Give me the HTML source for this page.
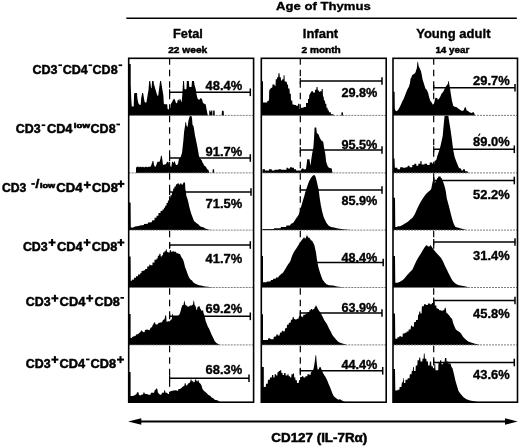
<!DOCTYPE html>
<html><head><meta charset="utf-8"><style>
html,body{margin:0;padding:0;background:#fff;}
svg{display:block;}
text{font-family:"Liberation Sans", sans-serif;font-weight:bold;fill:#000;stroke:#000;stroke-width:0.35px;}
svg{will-change:transform;}
</style></head><body>
<svg width="520" height="446" viewBox="0 0 520 446">
<text x="276" y="10.4" font-size="11.6" textLength="94.8" lengthAdjust="spacingAndGlyphs">Age of Thymus</text>
<line x1="126.3" y1="18.3" x2="516.8" y2="18.3" stroke="#000" stroke-width="1.5"/>
<text x="173" y="37.7" font-size="12.7" textLength="29.8" lengthAdjust="spacingAndGlyphs">Fetal</text>
<text x="168.2" y="52.5" font-size="9.9" textLength="39" lengthAdjust="spacingAndGlyphs" style="stroke-width:0.5px">22 week</text>
<text x="302.8" y="37.8" font-size="12.7" textLength="35.4" lengthAdjust="spacingAndGlyphs">Infant</text>
<text x="301.5" y="52.5" font-size="9.9" textLength="39.3" lengthAdjust="spacingAndGlyphs" style="stroke-width:0.5px">2 month</text>
<text x="416.2" y="37.7" font-size="12.7" textLength="74.3" lengthAdjust="spacingAndGlyphs">Young adult</text>
<text x="435.4" y="52.6" font-size="9.9" textLength="33.8" lengthAdjust="spacingAndGlyphs" style="stroke-width:0.5px">14 year</text>
<path d="M128.70,115.40 L128.70,64.00 L130.70,64.00 L130.70,84.00 L131.30,100.00 L131.80,106.60 L133.70,106.60 L134.10,94.00 L134.60,92.90 L137.00,92.90 L137.40,98.60 L138.30,103.00 L139.30,104.70 L140.70,104.70 L141.20,98.00 L142.20,92.90 L143.10,92.90 L144.50,101.40 L145.20,102.40 L146.40,102.40 L147.80,93.90 L148.50,90.00 L149.20,81.10 L150.20,81.10 L151.10,88.20 L151.60,88.00 L152.10,81.10 L153.50,81.10 L153.90,84.00 L156.80,93.90 L157.50,95.80 L158.20,95.80 L159.20,88.00 L160.10,81.10 L161.00,81.10 L162.00,87.30 L163.40,95.80 L163.80,103.30 L164.30,104.20 L167.20,104.20 L167.60,109.00 L169.50,109.50 L170.30,108.00 L170.80,104.00 L171.80,102.40 L173.00,100.00 L174.10,98.60 L175.00,100.00 L176.00,103.00 L177.00,103.30 L177.80,100.00 L178.40,99.50 L179.20,101.00 L179.80,98.60 L180.50,99.50 L181.60,102.40 L182.30,95.00 L183.10,81.10 L184.00,81.10 L184.50,89.20 L186.40,89.20 L186.90,81.10 L188.80,81.10 L189.30,87.00 L191.50,87.00 L192.00,81.10 L194.00,81.10 L194.50,85.00 L195.80,89.20 L196.50,94.00 L197.20,97.60 L198.20,99.50 L199.80,99.50 L200.60,98.00 L201.50,98.60 L202.30,100.00 L203.00,103.30 L203.80,103.30 L204.80,104.20 L205.70,104.20 L206.50,109.00 L207.60,114.60 L208.00,115.40 L209.20,115.40 L209.30,110.50 L210.40,110.50 L210.60,112.00 L211.00,112.00 L211.20,110.50 L212.30,110.50 L212.50,115.40 L213.00,115.40 L213.20,110.50 L214.60,110.50 L214.80,115.40 L221.60,115.40 L222.00,110.80 L223.60,110.80 L224.00,115.40 L224.00,115.40 Z" fill="#000"/>
<path d="M136.00,172.90 L136.00,172.90 L136.00,167.50 L137.00,167.00 L137.50,166.50 L138.50,166.80 L139.00,167.50 L140.00,166.50 L141.00,167.00 L142.00,167.20 L143.00,166.50 L144.00,167.50 L145.00,167.00 L146.00,166.50 L147.00,167.20 L148.00,167.00 L149.00,166.50 L150.00,167.00 L151.00,166.00 L152.00,163.00 L152.60,161.10 L153.40,161.10 L154.00,165.00 L155.00,167.00 L156.00,166.00 L157.00,163.00 L157.60,161.80 L159.60,161.80 L160.40,159.00 L161.00,155.70 L161.80,155.70 L162.40,160.00 L163.00,165.00 L164.00,164.50 L165.00,164.50 L166.00,164.00 L167.00,162.00 L167.60,161.80 L168.40,161.80 L169.00,164.00 L170.00,165.10 L170.50,166.50 L171.30,167.00 L172.00,162.50 L172.60,161.30 L173.50,163.00 L174.00,162.00 L174.70,161.10 L175.40,163.50 L176.00,165.10 L177.00,165.00 L178.00,164.00 L179.00,158.50 L180.60,157.20 L182.00,153.00 L182.80,146.00 L183.40,140.20 L184.10,131.80 L185.00,126.00 L185.50,121.90 L186.00,122.00 L186.60,126.00 L187.60,127.00 L188.40,121.00 L189.20,118.00 L189.80,116.00 L191.40,116.00 L192.00,118.00 L192.50,124.80 L193.50,126.00 L194.00,129.00 L195.00,135.50 L196.00,140.00 L197.00,145.00 L198.00,150.30 L199.00,156.00 L200.00,158.40 L201.60,160.00 L202.50,162.50 L203.50,164.00 L204.50,166.00 L205.80,166.50 L206.50,168.00 L207.50,169.50 L208.50,170.00 L209.00,172.00 L209.50,172.90 L212.50,172.90 L212.80,169.30 L214.00,169.30 L214.30,172.90 L214.30,172.90 Z" fill="#000"/>
<path d="M128.70,230.10 L128.70,202.50 L130.60,202.50 L130.80,227.60 L133.30,227.60 L135.00,226.50 L138.60,226.00 L140.00,225.50 L143.90,225.00 L144.00,224.00 L147.90,223.70 L148.00,222.50 L151.80,222.30 L152.00,220.50 L154.50,220.30 L154.60,217.70 L156.50,217.70 L156.60,215.80 L158.40,215.70 L158.50,213.00 L160.50,213.00 L160.60,211.00 L162.40,211.00 L162.50,209.50 L163.80,209.50 L164.00,207.80 L165.00,207.80 L165.20,205.80 L166.40,205.80 L166.60,203.10 L167.70,203.10 L168.00,200.50 L169.00,200.50 L169.10,197.80 L170.40,197.80 L170.50,195.20 L171.80,195.20 L172.00,191.90 L173.00,191.90 L173.20,188.60 L174.40,188.60 L174.50,186.60 L175.70,186.60 L176.00,184.60 L177.50,183.90 L177.50,183.30 L178.60,183.30 L179.00,184.60 L180.00,184.60 L180.50,183.30 L181.30,183.30 L181.50,184.60 L183.00,184.60 L183.30,182.60 L185.00,182.60 L185.30,189.00 L186.00,192.00 L186.30,195.80 L187.50,199.00 L188.50,203.00 L189.20,206.40 L190.00,209.50 L191.00,213.00 L192.00,215.70 L193.00,218.50 L194.00,221.00 L195.50,222.30 L197.00,223.50 L198.50,224.50 L200.00,226.30 L202.00,227.00 L204.00,227.60 L205.00,228.50 L207.00,229.00 L209.00,229.80 L212.00,230.10 L212.00,230.10 Z" fill="#000"/>
<path d="M128.70,287.50 L128.70,256.50 L130.60,256.50 L130.80,281.00 L131.50,281.00 L132.00,279.70 L134.00,279.50 L134.00,277.70 L136.00,277.70 L136.00,276.30 L138.00,276.30 L138.00,274.40 L140.00,274.40 L140.50,273.00 L141.50,273.00 L141.50,271.00 L143.20,271.00 L143.50,270.50 L145.00,270.30 L145.20,269.00 L147.20,269.00 L147.20,266.40 L149.00,266.40 L149.50,264.40 L150.00,264.40 L150.50,265.20 L152.50,265.20 L152.50,262.50 L154.50,262.50 L154.50,259.80 L156.50,259.80 L156.50,258.50 L157.80,258.50 L157.80,255.80 L159.00,255.80 L159.50,253.80 L160.50,253.80 L160.70,256.50 L161.80,256.50 L162.00,255.20 L163.00,255.20 L163.00,252.50 L164.50,252.50 L164.50,251.20 L165.50,251.20 L166.00,249.50 L166.60,249.20 L167.00,251.80 L168.50,252.50 L169.50,252.50 L170.00,250.00 L170.80,249.90 L171.00,251.80 L172.30,251.80 L172.50,251.20 L173.60,251.20 L174.00,251.80 L176.00,251.80 L176.50,253.20 L178.00,253.20 L178.50,253.80 L180.00,254.00 L181.00,256.50 L182.00,258.00 L183.00,259.50 L184.00,262.50 L185.00,267.00 L186.60,271.00 L188.00,275.00 L189.20,277.70 L190.50,279.50 L192.00,280.50 L193.20,282.30 L195.00,283.50 L196.50,284.30 L199.00,285.20 L202.00,285.80 L205.00,286.50 L208.00,286.80 L211.00,287.20 L215.00,287.50 L215.00,287.50 Z" fill="#000"/>
<path d="M128.70,344.90 L128.70,314.00 L130.60,314.00 L130.60,338.00 L131.50,338.00 L133.00,336.50 L135.50,336.10 L136.00,334.50 L138.00,334.20 L139.00,333.00 L140.00,332.50 L141.00,331.00 L141.60,330.30 L142.30,331.00 L143.00,332.00 L144.50,332.20 L145.00,330.00 L147.00,329.60 L148.00,329.80 L149.50,330.20 L150.50,328.00 L152.00,327.00 L152.70,325.00 L153.50,324.00 L154.00,322.50 L155.00,322.50 L155.60,324.50 L157.50,324.50 L158.50,323.00 L160.50,322.50 L162.00,322.20 L163.00,320.00 L164.50,319.20 L165.20,316.00 L165.60,314.70 L166.20,316.00 L166.60,321.80 L167.80,321.50 L168.50,321.20 L170.00,321.20 L170.50,320.00 L171.80,319.20 L172.30,314.00 L172.70,313.40 L173.20,316.00 L174.00,317.30 L175.50,316.20 L177.50,316.00 L179.00,315.30 L180.00,313.00 L180.50,311.40 L181.50,307.50 L182.50,304.90 L183.50,304.90 L184.00,302.00 L184.40,300.40 L184.80,302.00 L185.30,304.90 L186.50,305.50 L187.50,306.50 L188.50,306.80 L189.50,306.00 L190.50,305.60 L192.00,305.60 L193.00,304.30 L193.60,300.40 L194.00,300.40 L194.60,304.90 L195.50,306.00 L196.50,310.10 L197.00,310.10 L197.50,307.00 L198.50,306.50 L199.00,306.20 L199.60,306.20 L200.00,308.00 L201.50,310.70 L203.00,310.20 L203.50,313.00 L204.40,315.30 L205.00,318.00 L205.70,321.00 L207.00,324.40 L208.00,327.00 L209.00,328.50 L210.90,333.00 L212.00,335.50 L213.50,338.50 L214.75,341.25 L216.50,343.00 L218.50,344.30 L220.00,344.90 L220.00,344.90 Z" fill="#000"/>
<path d="M128.70,402.20 L128.70,372.00 L130.60,372.00 L130.60,396.00 L133.00,396.00 L135.00,395.00 L136.50,394.00 L137.10,392.20 L138.40,392.20 L139.00,395.00 L140.50,395.50 L141.00,394.80 L143.00,394.50 L143.60,392.20 L144.30,392.50 L145.00,394.10 L147.50,394.10 L148.00,394.80 L150.50,394.80 L151.00,392.80 L154.00,392.80 L154.70,390.20 L155.30,390.00 L156.60,388.30 L157.30,389.00 L158.00,392.80 L160.00,394.80 L161.50,394.50 L162.00,392.80 L163.80,392.80 L164.40,390.20 L165.00,390.20 L165.50,392.80 L167.00,392.80 L168.00,394.10 L169.30,394.10 L170.00,391.50 L171.50,390.90 L173.50,390.50 L176.00,390.20 L178.00,390.90 L178.50,389.00 L180.00,388.90 L182.00,387.60 L183.00,386.30 L184.20,386.30 L184.90,383.10 L185.50,383.30 L186.00,385.60 L187.00,385.60 L188.00,383.70 L189.00,383.00 L190.00,382.40 L190.80,379.20 L191.40,379.50 L192.00,381.80 L193.00,380.50 L193.50,382.40 L194.60,382.00 L195.30,379.20 L196.00,379.50 L196.50,381.00 L197.50,381.50 L198.00,379.90 L198.50,380.20 L199.00,382.40 L200.50,383.70 L201.50,385.60 L202.50,388.90 L204.00,390.90 L205.50,392.00 L207.00,393.50 L208.50,395.00 L210.50,396.00 L211.50,397.50 L213.00,398.00 L214.50,399.50 L215.50,400.00 L217.50,400.30 L219.00,401.50 L221.00,402.20 L221.00,402.20 Z" fill="#000"/>
<path d="M261.30,115.40 L261.30,81.20 L263.00,81.20 L263.00,102.40 L267.00,102.40 L267.50,101.00 L269.00,100.50 L269.20,91.00 L269.60,89.80 L271.00,88.00 L272.30,87.50 L272.50,84.50 L274.50,84.50 L274.80,86.00 L275.50,86.00 L275.80,79.20 L277.00,79.20 L277.20,77.20 L278.20,77.20 L278.50,73.20 L279.50,73.20 L279.80,77.20 L280.80,77.20 L281.00,80.50 L282.00,80.50 L282.30,79.20 L283.50,79.20 L283.60,75.20 L284.50,75.20 L284.70,81.20 L286.00,81.80 L286.80,81.80 L287.00,84.50 L288.00,84.50 L288.20,88.50 L289.50,88.50 L289.80,93.80 L290.80,93.80 L291.00,100.40 L292.20,100.40 L292.50,104.40 L294.00,104.40 L294.20,105.00 L296.00,105.00 L296.20,105.70 L298.00,105.70 L298.20,103.70 L299.50,103.70 L299.50,109.00 L300.70,109.00 L300.80,107.70 L303.50,107.70 L303.60,107.00 L306.00,107.00 L306.00,103.00 L308.00,103.00 L308.00,99.00 L309.00,99.00 L309.30,95.00 L310.00,94.00 L310.50,93.10 L311.50,91.20 L313.00,91.20 L313.00,92.40 L315.00,92.40 L315.00,89.80 L316.30,89.80 L316.50,87.10 L317.50,87.10 L317.80,90.50 L319.00,90.50 L319.00,91.80 L320.00,91.80 L320.30,91.20 L321.50,91.20 L321.70,89.10 L322.70,89.10 L323.00,96.40 L323.60,96.40 L324.00,100.40 L325.00,100.40 L325.20,103.70 L326.30,103.70 L326.50,107.70 L327.50,107.70 L327.80,110.30 L328.80,110.30 L329.00,112.30 L330.80,112.30 L331.00,114.30 L333.50,114.30 L333.70,115.40 L341.20,115.40 L341.60,112.30 L342.80,112.30 L343.20,115.40 L343.20,115.40 Z" fill="#000"/>
<path d="M262.50,172.90 L262.50,172.90 L262.50,169.20 L265.00,169.20 L265.00,170.50 L269.00,170.50 L269.00,169.20 L271.80,169.20 L271.80,170.50 L274.50,170.50 L274.50,169.80 L278.50,169.80 L278.50,169.20 L281.20,169.20 L281.20,169.80 L286.50,169.80 L286.50,167.80 L288.00,167.80 L288.00,168.50 L290.00,168.50 L290.00,167.20 L292.00,167.20 L292.00,167.80 L294.00,167.80 L294.00,169.20 L296.00,169.20 L296.00,170.50 L300.00,170.50 L301.00,170.50 L301.50,169.00 L303.00,168.20 L304.00,169.50 L306.00,169.00 L306.80,163.00 L307.20,159.30 L309.50,159.30 L310.00,163.00 L310.50,165.70 L311.20,160.00 L312.00,154.40 L313.40,147.30 L314.00,138.80 L314.60,127.50 L316.20,127.50 L316.90,133.20 L318.30,133.90 L319.70,137.40 L321.10,140.20 L323.20,141.70 L324.00,147.30 L325.40,154.40 L326.10,161.40 L327.50,165.70 L328.90,167.80 L331.70,168.50 L332.50,172.90 L332.50,172.90 Z" fill="#000"/>
<path d="M262.50,230.10 L262.50,230.10 L262.50,229.00 L274.00,229.00 L274.00,228.30 L280.50,228.30 L281.00,227.00 L286.00,227.00 L286.50,225.60 L290.00,225.60 L291.00,223.70 L293.00,223.00 L294.50,221.00 L296.00,218.40 L297.50,216.50 L298.80,214.40 L300.00,210.40 L301.20,206.50 L302.20,203.00 L303.20,199.50 L304.20,196.50 L305.20,192.50 L306.20,189.50 L307.20,186.50 L308.20,183.50 L309.20,181.00 L310.20,179.20 L311.20,177.50 L312.30,176.20 L313.20,175.30 L314.80,175.30 L315.60,177.00 L316.30,179.50 L317.00,182.60 L317.80,186.00 L318.60,189.20 L319.60,197.20 L320.80,205.10 L322.20,211.70 L323.50,216.40 L324.90,219.70 L326.50,223.00 L328.50,225.60 L331.00,227.00 L334.00,227.60 L338.00,228.40 L343.00,229.20 L348.00,229.80 L352.00,230.10 L352.00,230.10 Z" fill="#000"/>
<path d="M261.30,287.50 L261.30,255.90 L263.00,255.90 L263.00,282.20 L266.50,282.20 L267.00,281.50 L270.40,281.50 L271.00,280.10 L273.00,280.10 L273.20,278.80 L275.80,278.80 L276.00,277.50 L278.00,277.50 L279.50,275.40 L281.50,273.80 L283.00,272.70 L285.00,269.40 L287.50,265.30 L290.30,261.30 L292.00,256.00 L294.30,251.20 L296.30,248.50 L298.30,245.20 L300.00,242.50 L302.00,239.80 L303.50,238.00 L304.10,237.10 L304.80,238.50 L305.50,238.50 L306.30,236.50 L307.00,235.00 L307.80,236.80 L308.50,237.70 L309.50,237.70 L310.20,239.00 L311.00,240.40 L312.00,240.60 L313.00,242.50 L314.40,245.20 L315.20,249.00 L316.00,252.60 L317.00,260.00 L318.30,266.70 L319.80,272.00 L321.20,276.10 L322.50,279.50 L324.50,282.20 L326.50,284.20 L329.00,285.20 L333.00,285.50 L337.00,286.50 L341.00,287.00 L344.00,287.50 L344.00,287.50 Z" fill="#000"/>
<path d="M261.30,344.90 L261.30,314.20 L263.00,314.20 L263.00,340.00 L268.00,340.00 L268.20,338.50 L269.30,338.00 L269.80,338.50 L271.00,339.30 L273.50,339.30 L273.80,336.70 L276.00,336.50 L276.50,334.50 L277.30,334.00 L277.80,335.50 L279.50,335.50 L280.00,332.70 L281.50,332.50 L282.00,330.80 L283.00,330.70 L283.50,331.50 L284.80,331.30 L285.00,328.50 L286.80,328.00 L287.00,324.70 L288.50,324.70 L289.00,322.80 L290.50,322.80 L291.00,320.00 L292.30,319.50 L292.80,317.00 L293.50,316.80 L294.00,318.80 L295.50,319.50 L296.50,319.50 L297.00,318.80 L298.50,318.80 L299.00,316.20 L300.00,315.80 L301.00,315.50 L301.50,316.80 L303.00,316.80 L303.50,314.80 L305.30,314.80 L305.80,313.50 L307.30,313.50 L307.50,312.20 L309.20,312.00 L309.50,310.20 L310.50,310.20 L311.00,309.00 L312.20,309.00 L312.40,310.20 L313.50,309.00 L314.30,308.90 L314.50,307.50 L315.20,306.90 L315.80,305.50 L316.30,305.50 L316.70,306.50 L317.50,308.20 L319.00,310.80 L320.50,312.80 L321.60,314.80 L323.00,317.50 L324.20,320.10 L325.50,322.00 L326.90,324.10 L328.20,326.70 L329.50,329.40 L331.00,332.00 L332.20,334.70 L333.50,336.50 L334.80,338.00 L336.50,340.00 L338.50,342.00 L341.00,343.00 L344.00,344.00 L347.00,344.90 L347.00,344.90 Z" fill="#000"/>
<path d="M261.30,402.20 L261.30,366.90 L263.80,366.90 L263.80,387.10 L265.70,387.10 L266.00,383.70 L267.70,383.70 L268.00,379.70 L269.80,379.70 L270.00,377.60 L271.80,377.60 L272.00,375.00 L273.20,375.00 L273.40,377.60 L274.50,377.60 L274.70,374.30 L276.00,374.30 L276.20,375.60 L277.30,375.60 L277.50,372.30 L278.50,372.30 L278.80,371.00 L279.80,371.00 L280.00,370.20 L281.20,370.20 L281.40,373.00 L282.50,373.00 L282.70,375.00 L284.00,375.00 L284.20,372.90 L285.50,372.90 L285.70,375.60 L287.30,375.60 L287.50,374.30 L288.50,374.30 L288.70,376.30 L290.00,376.30 L290.30,377.60 L291.30,377.60 L291.50,374.30 L292.80,374.30 L293.00,373.60 L294.00,373.60 L294.20,377.60 L295.30,377.60 L295.50,380.30 L296.80,380.30 L297.00,383.00 L298.70,383.00 L299.00,380.30 L300.00,380.30 L300.20,377.00 L301.80,377.00 L302.00,376.30 L303.30,376.30 L303.50,377.60 L305.20,377.60 L305.50,376.30 L307.30,376.30 L307.50,374.30 L309.40,374.30 L309.60,375.00 L310.50,375.00 L310.80,372.50 L311.50,372.00 L312.20,370.50 L313.00,370.20 L313.70,368.00 L314.20,365.50 L315.00,360.00 L315.60,354.80 L316.20,356.00 L316.60,361.50 L317.00,365.00 L317.60,369.60 L318.50,369.60 L319.10,368.20 L319.70,367.00 L320.50,366.90 L321.10,368.50 L321.80,370.20 L323.00,372.90 L324.50,375.60 L325.80,377.60 L327.20,380.30 L328.50,383.70 L330.00,387.10 L331.30,390.40 L332.50,393.80 L334.00,396.50 L336.50,398.50 L338.50,399.80 L339.50,399.20 L341.00,399.80 L342.00,400.50 L343.00,401.20 L346.00,402.20 L346.00,402.20 Z" fill="#000"/>
<path d="M393.00,115.40 L393.00,91.80 L394.60,91.80 L394.80,108.30 L395.40,110.50 L396.60,111.20 L398.00,110.00 L398.80,108.80 L400.00,106.50 L401.30,103.70 L402.50,101.00 L403.80,98.60 L405.00,95.50 L406.40,91.80 L407.60,89.00 L408.90,86.80 L410.00,83.00 L410.60,78.30 L411.20,78.30 L411.80,76.00 L412.30,74.90 L413.20,74.50 L414.00,74.10 L415.50,72.50 L416.20,70.00 L416.80,68.60 L417.30,63.00 L417.70,61.30 L418.20,63.00 L418.60,66.00 L419.30,67.50 L419.80,68.60 L421.00,71.20 L421.80,75.00 L422.50,79.20 L423.80,83.20 L425.40,88.50 L426.70,89.80 L428.00,92.40 L429.30,97.70 L430.40,101.00 L431.70,102.40 L433.00,105.00 L434.20,103.00 L435.00,99.00 L435.60,97.70 L437.00,98.00 L438.00,99.70 L439.20,98.40 L440.30,96.40 L441.50,93.80 L443.30,91.80 L444.50,89.00 L445.90,86.50 L447.00,85.00 L447.80,84.00 L448.30,81.20 L448.90,81.20 L449.30,84.50 L450.00,88.00 L450.60,92.40 L451.90,100.40 L453.20,105.70 L455.00,107.00 L456.00,106.80 L457.90,108.30 L460.00,109.70 L461.90,111.00 L463.80,110.30 L464.50,108.00 L465.20,107.00 L466.00,108.00 L466.50,110.30 L468.00,111.00 L469.50,112.30 L471.50,113.00 L473.00,112.30 L473.80,112.30 L474.50,114.00 L475.00,115.40 L475.00,115.40 Z" fill="#000"/>
<path d="M393.00,172.90 L393.00,158.40 L394.50,158.40 L394.80,167.80 L397.30,167.80 L397.50,169.20 L400.00,169.20 L400.20,167.20 L402.80,167.20 L403.00,167.80 L405.50,167.80 L405.60,167.20 L407.50,167.20 L407.70,165.80 L409.50,165.80 L409.70,167.20 L412.20,167.20 L412.40,165.10 L414.20,165.10 L414.40,163.80 L416.20,163.80 L416.40,165.80 L418.20,165.80 L418.40,163.80 L420.20,163.80 L420.50,161.10 L421.50,161.10 L421.70,164.50 L424.30,164.50 L424.50,163.80 L427.00,163.80 L427.20,165.10 L429.60,165.10 L429.80,162.50 L432.20,162.50 L432.40,163.80 L434.30,163.80 L434.60,161.00 L436.30,160.00 L437.30,156.00 L438.40,153.00 L439.50,149.50 L440.50,145.90 L441.60,141.00 L442.70,136.00 L443.40,128.00 L444.10,120.50 L444.60,115.60 L448.30,115.60 L449.00,120.50 L450.40,129.00 L451.80,138.80 L453.20,150.00 L454.70,157.20 L456.80,162.80 L458.90,167.80 L460.00,168.50 L461.00,168.50 L461.50,170.50 L462.80,170.50 L463.20,169.20 L464.80,169.20 L465.20,171.20 L467.50,171.20 L468.00,172.90 L468.00,172.90 Z" fill="#000"/>
<path d="M393.00,230.10 L393.00,197.80 L395.00,197.80 L395.30,227.00 L397.30,227.00 L397.50,226.30 L400.00,226.30 L402.60,225.00 L405.00,223.60 L407.90,221.70 L410.00,219.80 L412.50,217.70 L414.50,214.80 L416.20,211.10 L418.00,207.00 L420.00,203.10 L422.00,199.80 L424.10,196.50 L426.00,194.00 L428.10,191.90 L430.00,190.50 L431.20,189.00 L431.70,186.60 L432.60,182.00 L433.40,179.00 L433.80,177.30 L434.20,177.30 L434.60,182.60 L435.30,182.60 L436.00,180.00 L436.80,180.00 L437.20,178.00 L437.90,178.00 L438.30,176.60 L440.50,176.60 L441.00,178.00 L441.60,178.00 L442.30,180.00 L443.30,182.60 L444.30,185.20 L445.20,188.50 L445.90,191.90 L446.80,198.50 L448.60,205.10 L450.00,210.50 L451.30,215.70 L452.60,220.50 L453.90,224.30 L455.50,227.00 L457.50,227.50 L460.00,228.30 L464.00,229.20 L466.00,230.10 L466.00,230.10 Z" fill="#000"/>
<path d="M393.00,287.50 L393.00,256.00 L395.00,256.00 L395.30,282.80 L397.40,282.80 L400.00,281.80 L402.80,280.10 L404.80,278.00 L406.80,275.40 L409.50,272.50 L412.50,269.40 L414.50,265.00 L416.60,260.60 L418.60,257.00 L420.60,253.90 L422.60,250.50 L424.60,247.20 L426.00,245.50 L427.00,245.20 L428.00,246.50 L429.50,246.50 L430.20,245.20 L430.80,245.20 L431.50,246.50 L433.40,249.20 L435.40,251.80 L437.40,253.90 L439.30,256.00 L441.10,257.90 L442.50,260.50 L443.50,262.60 L445.00,266.00 L446.30,268.40 L447.50,271.00 L448.70,273.40 L450.00,276.00 L451.40,278.80 L452.80,281.00 L454.50,282.80 L456.50,284.30 L459.00,285.20 L462.00,285.70 L466.00,286.50 L469.00,287.50 L469.00,287.50 Z" fill="#000"/>
<path d="M393.00,344.90 L393.00,313.50 L395.00,313.50 L395.30,338.70 L397.30,338.70 L397.50,337.30 L399.30,337.30 L399.50,336.00 L400.60,336.00 L400.80,336.70 L402.60,336.70 L402.80,333.40 L404.60,333.40 L404.80,332.70 L406.50,332.70 L406.70,331.40 L408.50,331.40 L408.70,329.40 L410.50,329.40 L411.00,326.00 L411.50,325.40 L412.00,325.50 L412.50,326.70 L413.80,326.70 L414.20,322.10 L415.80,322.10 L416.00,320.10 L417.80,320.10 L418.10,314.80 L419.00,314.80 L419.30,311.50 L420.20,311.50 L420.50,313.50 L421.60,313.50 L421.90,306.20 L423.80,306.20 L424.00,304.20 L425.80,304.20 L426.00,304.90 L427.80,304.90 L428.00,303.60 L429.80,303.60 L430.00,304.20 L431.70,304.20 L432.00,302.90 L433.00,302.90 L433.30,301.60 L434.50,301.60 L434.80,305.50 L436.30,305.50 L436.50,308.20 L437.60,308.20 L437.80,308.90 L439.00,308.90 L439.20,310.20 L441.00,310.20 L441.50,310.80 L442.80,310.80 L443.00,310.20 L444.20,310.20 L444.80,308.00 L445.50,307.50 L446.00,309.50 L446.30,312.80 L447.30,313.30 L448.00,314.20 L449.30,315.50 L450.60,317.50 L452.00,318.80 L453.30,323.40 L454.60,326.70 L455.90,329.40 L457.50,330.70 L459.50,332.00 L461.00,333.40 L463.00,336.70 L465.50,339.30 L467.80,341.30 L471.00,342.60 L475.00,343.70 L480.00,344.90 L480.00,344.90 Z" fill="#000"/>
<path d="M393.00,402.20 L393.00,368.90 L395.00,368.90 L395.30,390.40 L397.40,390.40 L397.60,389.80 L399.40,389.80 L399.60,387.10 L401.40,387.10 L401.80,383.00 L402.80,382.00 L403.30,378.30 L403.80,378.30 L404.00,383.00 L405.30,383.00 L405.50,379.70 L407.50,379.70 L407.70,378.30 L409.50,378.30 L409.80,374.30 L411.50,374.30 L411.80,371.00 L412.80,371.00 L413.10,366.90 L413.80,366.90 L414.00,371.00 L415.50,371.00 L415.80,365.50 L417.30,365.50 L417.60,360.20 L419.00,360.20 L419.30,357.50 L420.20,357.50 L420.50,361.50 L422.30,361.50 L422.50,358.80 L423.60,358.80 L423.90,353.40 L424.60,353.40 L424.90,358.80 L426.30,358.80 L426.60,361.50 L427.90,361.50 L428.20,365.50 L429.60,365.50 L429.90,361.50 L431.10,361.50 L431.40,366.20 L432.80,366.20 L433.00,368.20 L434.20,368.20 L434.40,364.00 L435.20,364.00 L435.50,370.20 L438.20,370.20 L438.50,362.20 L439.90,362.20 L440.20,360.20 L441.20,360.20 L441.50,364.20 L443.00,364.20 L443.50,362.20 L444.60,362.00 L445.00,358.10 L446.30,358.10 L446.60,361.50 L448.20,361.50 L448.50,363.50 L450.50,363.50 L451.50,366.90 L452.50,368.20 L453.50,372.30 L454.50,376.50 L455.50,381.00 L457.00,386.00 L458.50,391.10 L460.50,393.80 L463.50,397.20 L466.50,399.20 L470.00,400.50 L474.00,401.20 L478.00,402.20 L478.00,402.20 Z" fill="#000"/>
<line x1="128.7" y1="115.4" x2="253.6" y2="115.4" stroke="#707070" stroke-width="0.9" stroke-dasharray="2 1"/>
<line x1="128.7" y1="172.9" x2="253.6" y2="172.9" stroke="#707070" stroke-width="0.9" stroke-dasharray="2 1"/>
<line x1="128.7" y1="230.1" x2="253.6" y2="230.1" stroke="#707070" stroke-width="0.9" stroke-dasharray="2 1"/>
<line x1="128.7" y1="287.5" x2="253.6" y2="287.5" stroke="#707070" stroke-width="0.9" stroke-dasharray="2 1"/>
<line x1="128.7" y1="344.9" x2="253.6" y2="344.9" stroke="#707070" stroke-width="0.9" stroke-dasharray="2 1"/>
<line x1="261.3" y1="115.4" x2="386.2" y2="115.4" stroke="#707070" stroke-width="0.9" stroke-dasharray="2 1"/>
<line x1="261.3" y1="172.9" x2="386.2" y2="172.9" stroke="#707070" stroke-width="0.9" stroke-dasharray="2 1"/>
<line x1="261.3" y1="230.1" x2="386.2" y2="230.1" stroke="#707070" stroke-width="0.9" stroke-dasharray="2 1"/>
<line x1="261.3" y1="287.5" x2="386.2" y2="287.5" stroke="#707070" stroke-width="0.9" stroke-dasharray="2 1"/>
<line x1="261.3" y1="344.9" x2="386.2" y2="344.9" stroke="#707070" stroke-width="0.9" stroke-dasharray="2 1"/>
<line x1="393.0" y1="115.4" x2="517.5" y2="115.4" stroke="#707070" stroke-width="0.9" stroke-dasharray="2 1"/>
<line x1="393.0" y1="172.9" x2="517.5" y2="172.9" stroke="#707070" stroke-width="0.9" stroke-dasharray="2 1"/>
<line x1="393.0" y1="230.1" x2="517.5" y2="230.1" stroke="#707070" stroke-width="0.9" stroke-dasharray="2 1"/>
<line x1="393.0" y1="287.5" x2="517.5" y2="287.5" stroke="#707070" stroke-width="0.9" stroke-dasharray="2 1"/>
<line x1="393.0" y1="344.9" x2="517.5" y2="344.9" stroke="#707070" stroke-width="0.9" stroke-dasharray="2 1"/>
<line x1="169.6" y1="58.3" x2="169.6" y2="402.2" stroke="#000" stroke-width="1.2" stroke-dasharray="6.5 5"/>
<line x1="300.3" y1="58.3" x2="300.3" y2="402.2" stroke="#000" stroke-width="1.2" stroke-dasharray="6.5 5"/>
<line x1="433.7" y1="58.3" x2="433.7" y2="402.2" stroke="#000" stroke-width="1.2" stroke-dasharray="6.5 5"/>
<line x1="169.6" y1="92.3" x2="250.3" y2="92.3" stroke="#000" stroke-width="1.4"/>
<line x1="250.3" y1="88.5" x2="250.3" y2="96.1" stroke="#000" stroke-width="1.5"/>
<line x1="169.6" y1="89.3" x2="169.6" y2="95.3" stroke="#000" stroke-width="1.2"/>
<line x1="169.6" y1="158.0" x2="250.3" y2="158.0" stroke="#000" stroke-width="1.4"/>
<line x1="250.3" y1="154.2" x2="250.3" y2="161.8" stroke="#000" stroke-width="1.5"/>
<line x1="169.6" y1="155.0" x2="169.6" y2="161.0" stroke="#000" stroke-width="1.2"/>
<line x1="169.6" y1="192.0" x2="251.0" y2="192.0" stroke="#000" stroke-width="1.4"/>
<line x1="251.0" y1="188.2" x2="251.0" y2="195.8" stroke="#000" stroke-width="1.5"/>
<line x1="169.6" y1="189.0" x2="169.6" y2="195.0" stroke="#000" stroke-width="1.2"/>
<line x1="169.6" y1="245.0" x2="250.3" y2="245.0" stroke="#000" stroke-width="1.4"/>
<line x1="250.3" y1="241.2" x2="250.3" y2="248.8" stroke="#000" stroke-width="1.5"/>
<line x1="169.6" y1="242.0" x2="169.6" y2="248.0" stroke="#000" stroke-width="1.2"/>
<line x1="169.6" y1="316.3" x2="250.3" y2="316.3" stroke="#000" stroke-width="1.4"/>
<line x1="250.3" y1="312.5" x2="250.3" y2="320.1" stroke="#000" stroke-width="1.5"/>
<line x1="169.6" y1="313.3" x2="169.6" y2="319.3" stroke="#000" stroke-width="1.2"/>
<line x1="169.6" y1="378.3" x2="249.0" y2="378.3" stroke="#000" stroke-width="1.4"/>
<line x1="249.0" y1="374.5" x2="249.0" y2="382.1" stroke="#000" stroke-width="1.5"/>
<line x1="169.6" y1="375.3" x2="169.6" y2="381.3" stroke="#000" stroke-width="1.2"/>
<line x1="300.3" y1="81.0" x2="382.0" y2="81.0" stroke="#000" stroke-width="1.4"/>
<line x1="382.0" y1="77.2" x2="382.0" y2="84.8" stroke="#000" stroke-width="1.5"/>
<line x1="300.3" y1="78.0" x2="300.3" y2="84.0" stroke="#000" stroke-width="1.2"/>
<line x1="300.3" y1="150.0" x2="382.0" y2="150.0" stroke="#000" stroke-width="1.4"/>
<line x1="382.0" y1="146.2" x2="382.0" y2="153.8" stroke="#000" stroke-width="1.5"/>
<line x1="300.3" y1="147.0" x2="300.3" y2="153.0" stroke="#000" stroke-width="1.2"/>
<line x1="300.3" y1="190.0" x2="382.0" y2="190.0" stroke="#000" stroke-width="1.4"/>
<line x1="382.0" y1="186.2" x2="382.0" y2="193.8" stroke="#000" stroke-width="1.5"/>
<line x1="300.3" y1="187.0" x2="300.3" y2="193.0" stroke="#000" stroke-width="1.2"/>
<line x1="300.3" y1="262.5" x2="383.2" y2="262.5" stroke="#000" stroke-width="1.4"/>
<line x1="383.2" y1="258.7" x2="383.2" y2="266.3" stroke="#000" stroke-width="1.5"/>
<line x1="300.3" y1="259.5" x2="300.3" y2="265.5" stroke="#000" stroke-width="1.2"/>
<line x1="300.3" y1="313.0" x2="382.0" y2="313.0" stroke="#000" stroke-width="1.4"/>
<line x1="382.0" y1="309.2" x2="382.0" y2="316.8" stroke="#000" stroke-width="1.5"/>
<line x1="300.3" y1="310.0" x2="300.3" y2="316.0" stroke="#000" stroke-width="1.2"/>
<line x1="300.3" y1="370.8" x2="382.7" y2="370.8" stroke="#000" stroke-width="1.4"/>
<line x1="382.7" y1="367.0" x2="382.7" y2="374.6" stroke="#000" stroke-width="1.5"/>
<line x1="300.3" y1="367.8" x2="300.3" y2="373.8" stroke="#000" stroke-width="1.2"/>
<line x1="433.7" y1="87.8" x2="515.0" y2="87.8" stroke="#000" stroke-width="1.4"/>
<line x1="515.0" y1="84.0" x2="515.0" y2="91.6" stroke="#000" stroke-width="1.5"/>
<line x1="433.7" y1="84.8" x2="433.7" y2="90.8" stroke="#000" stroke-width="1.2"/>
<line x1="433.7" y1="149.3" x2="514.3" y2="149.3" stroke="#000" stroke-width="1.4"/>
<line x1="514.3" y1="145.5" x2="514.3" y2="153.10000000000002" stroke="#000" stroke-width="1.5"/>
<line x1="433.7" y1="146.3" x2="433.7" y2="152.3" stroke="#000" stroke-width="1.2"/>
<line x1="433.7" y1="180.5" x2="514.3" y2="180.5" stroke="#000" stroke-width="1.4"/>
<line x1="514.3" y1="176.7" x2="514.3" y2="184.3" stroke="#000" stroke-width="1.5"/>
<line x1="433.7" y1="177.5" x2="433.7" y2="183.5" stroke="#000" stroke-width="1.2"/>
<line x1="433.7" y1="242.0" x2="515.0" y2="242.0" stroke="#000" stroke-width="1.4"/>
<line x1="515.0" y1="238.2" x2="515.0" y2="245.8" stroke="#000" stroke-width="1.5"/>
<line x1="433.7" y1="239.0" x2="433.7" y2="245.0" stroke="#000" stroke-width="1.2"/>
<line x1="433.7" y1="300.5" x2="515.0" y2="300.5" stroke="#000" stroke-width="1.4"/>
<line x1="515.0" y1="296.7" x2="515.0" y2="304.3" stroke="#000" stroke-width="1.5"/>
<line x1="433.7" y1="297.5" x2="433.7" y2="303.5" stroke="#000" stroke-width="1.2"/>
<line x1="433.7" y1="362.5" x2="514.3" y2="362.5" stroke="#000" stroke-width="1.4"/>
<line x1="514.3" y1="358.7" x2="514.3" y2="366.3" stroke="#000" stroke-width="1.5"/>
<line x1="433.7" y1="359.5" x2="433.7" y2="365.5" stroke="#000" stroke-width="1.2"/>
<text x="205.5" y="89.8" font-size="12.4" textLength="36.7" lengthAdjust="spacingAndGlyphs">48.4%</text>
<text x="205.5" y="156.0" font-size="12.4" textLength="36.7" lengthAdjust="spacingAndGlyphs">91.7%</text>
<text x="205.5" y="207.5" font-size="12.4" textLength="36.7" lengthAdjust="spacingAndGlyphs">71.5%</text>
<text x="205.5" y="263.3" font-size="12.4" textLength="36.7" lengthAdjust="spacingAndGlyphs">41.7%</text>
<text x="205.5" y="312.5" font-size="12.4" textLength="36.7" lengthAdjust="spacingAndGlyphs">69.2%</text>
<text x="205.5" y="374.0" font-size="12.4" textLength="36.7" lengthAdjust="spacingAndGlyphs">68.3%</text>
<text x="341.4" y="96.5" font-size="12.4" textLength="36.0" lengthAdjust="spacingAndGlyphs">29.8%</text>
<text x="341.4" y="148.5" font-size="12.4" textLength="36.0" lengthAdjust="spacingAndGlyphs">95.5%</text>
<text x="341.4" y="204.5" font-size="12.4" textLength="36.0" lengthAdjust="spacingAndGlyphs">85.9%</text>
<text x="341.4" y="262.0" font-size="12.4" textLength="36.0" lengthAdjust="spacingAndGlyphs">48.4%</text>
<text x="341.4" y="312.0" font-size="12.4" textLength="36.0" lengthAdjust="spacingAndGlyphs">63.9%</text>
<text x="341.4" y="369.0" font-size="12.4" textLength="36.0" lengthAdjust="spacingAndGlyphs">44.4%</text>
<text x="473.1" y="85.3" font-size="12.4" textLength="36.6" lengthAdjust="spacingAndGlyphs">29.7%</text>
<text x="473.1" y="145.5" font-size="12.4" textLength="36.6" lengthAdjust="spacingAndGlyphs">89.0%</text>
<text x="473.1" y="198.7" font-size="12.4" textLength="36.6" lengthAdjust="spacingAndGlyphs">52.2%</text>
<text x="473.1" y="259.6" font-size="12.4" textLength="36.6" lengthAdjust="spacingAndGlyphs">31.4%</text>
<text x="473.1" y="318.3" font-size="12.4" textLength="36.6" lengthAdjust="spacingAndGlyphs">45.8%</text>
<text x="473.1" y="379.3" font-size="12.4" textLength="36.6" lengthAdjust="spacingAndGlyphs">43.6%</text>
<line x1="478.7" y1="135.6" x2="479.9" y2="133.9" stroke="#000" stroke-width="1.1" stroke-linecap="round"/>
<rect x="128.7" y="58.3" width="124.90" height="343.90" fill="none" stroke="#000" stroke-width="1.6"/>
<rect x="261.3" y="58.3" width="124.90" height="343.90" fill="none" stroke="#000" stroke-width="1.6"/>
<rect x="393.0" y="58.3" width="124.50" height="343.90" fill="none" stroke="#000" stroke-width="1.6"/>
<text x="32.4" y="73.7" font-size="13.0" textLength="25.0" lengthAdjust="spacingAndGlyphs" style="stroke-width:0.5px">CD3</text>
<rect x="58.4" y="64.4" width="3.6" height="1.7" fill="#000"/>
<text x="62.7" y="73.7" font-size="13.0" textLength="25.0" lengthAdjust="spacingAndGlyphs" style="stroke-width:0.5px">CD4</text>
<rect x="88.5" y="64.4" width="3.6" height="1.7" fill="#000"/>
<text x="92.6" y="73.7" font-size="13.0" textLength="25.0" lengthAdjust="spacingAndGlyphs" style="stroke-width:0.5px">CD8</text>
<rect x="118.6" y="64.4" width="3.6" height="1.7" fill="#000"/>
<text x="15.8" y="133.0" font-size="13.0" textLength="24.8" lengthAdjust="spacingAndGlyphs" style="stroke-width:0.5px">CD3</text>
<rect x="41.7" y="124.4" width="3.6" height="1.7" fill="#000"/>
<text x="46.9" y="133.0" font-size="13.0" textLength="25.6" lengthAdjust="spacingAndGlyphs" style="stroke-width:0.5px">CD4</text>
<text x="73.8" y="127.7" font-size="7.6" textLength="16.2" lengthAdjust="spacingAndGlyphs" style="stroke-width:0.6px">low</text>
<text x="90.6" y="133.0" font-size="13.0" textLength="25.0" lengthAdjust="spacingAndGlyphs" style="stroke-width:0.5px">CD8</text>
<rect x="116.4" y="123.6" width="3.6" height="1.7" fill="#000"/>
<text x="1.9" y="191.7" font-size="13.0" textLength="24.4" lengthAdjust="spacingAndGlyphs" style="stroke-width:0.5px">CD3</text>
<rect x="31.3" y="183.1" width="3.6" height="1.7" fill="#000"/>
<text x="35.3" y="187.6" font-size="12.6" textLength="4.2" lengthAdjust="spacingAndGlyphs">/</text>
<text x="40.0" y="187.7" font-size="7.6" textLength="15.2" lengthAdjust="spacingAndGlyphs" style="stroke-width:0.6px">low</text>
<text x="56.3" y="191.7" font-size="13.0" textLength="26.3" lengthAdjust="spacingAndGlyphs" style="stroke-width:0.5px">CD4</text>
<rect x="83.8" y="183.90" width="7.0" height="2.0" fill="#000"/><rect x="86.30" y="181.4" width="2.0" height="7.0" fill="#000"/>
<text x="92.0" y="191.7" font-size="13.0" textLength="25.9" lengthAdjust="spacingAndGlyphs" style="stroke-width:0.5px">CD8</text>
<rect x="117.39999999999999" y="182.90" width="7.0" height="2.0" fill="#000"/><rect x="119.90" y="180.4" width="2.0" height="7.0" fill="#000"/>
<text x="22.9" y="250.8" font-size="13.0" textLength="24.8" lengthAdjust="spacingAndGlyphs" style="stroke-width:0.5px">CD3</text>
<rect x="48.599999999999994" y="241.50" width="7.0" height="2.0" fill="#000"/><rect x="51.10" y="239.0" width="2.0" height="7.0" fill="#000"/>
<text x="56.9" y="250.8" font-size="13.0" textLength="25.8" lengthAdjust="spacingAndGlyphs" style="stroke-width:0.5px">CD4</text>
<rect x="83.6" y="241.50" width="7.0" height="2.0" fill="#000"/><rect x="86.10" y="239.0" width="2.0" height="7.0" fill="#000"/>
<text x="91.8" y="250.8" font-size="13.0" textLength="25.5" lengthAdjust="spacingAndGlyphs" style="stroke-width:0.5px">CD8</text>
<rect x="117.39999999999999" y="241.50" width="7.0" height="2.0" fill="#000"/><rect x="119.90" y="239.0" width="2.0" height="7.0" fill="#000"/>
<text x="25.8" y="306.4" font-size="13.0" textLength="24.8" lengthAdjust="spacingAndGlyphs" style="stroke-width:0.5px">CD3</text>
<rect x="51.4" y="297.30" width="7.0" height="2.0" fill="#000"/><rect x="53.90" y="294.8" width="2.0" height="7.0" fill="#000"/>
<text x="59.6" y="306.4" font-size="13.0" textLength="25.8" lengthAdjust="spacingAndGlyphs" style="stroke-width:0.5px">CD4</text>
<rect x="86.2" y="297.30" width="7.0" height="2.0" fill="#000"/><rect x="88.70" y="294.8" width="2.0" height="7.0" fill="#000"/>
<text x="94.6" y="306.4" font-size="13.0" textLength="25.3" lengthAdjust="spacingAndGlyphs" style="stroke-width:0.5px">CD8</text>
<rect x="120.4" y="297.0" width="3.6" height="1.7" fill="#000"/>
<text x="25.8" y="367.7" font-size="13.0" textLength="24.8" lengthAdjust="spacingAndGlyphs" style="stroke-width:0.5px">CD3</text>
<rect x="51.4" y="358.60" width="7.0" height="2.0" fill="#000"/><rect x="53.90" y="356.1" width="2.0" height="7.0" fill="#000"/>
<text x="59.6" y="367.7" font-size="13.0" textLength="25.6" lengthAdjust="spacingAndGlyphs" style="stroke-width:0.5px">CD4</text>
<rect x="86.0" y="358.6" width="3.6" height="1.7" fill="#000"/>
<text x="90.6" y="367.7" font-size="13.0" textLength="25.5" lengthAdjust="spacingAndGlyphs" style="stroke-width:0.5px">CD8</text>
<rect x="117.0" y="358.60" width="7.0" height="2.0" fill="#000"/><rect x="119.50" y="356.1" width="2.0" height="7.0" fill="#000"/>
<line x1="136" y1="421.5" x2="510" y2="421.5" stroke="#000" stroke-width="2"/>
<path d="M128.1,421.5 L141.3,418.2 L141.3,424.8 Z" fill="#000"/>
<path d="M517.7,421.5 L505,418.2 L505,424.8 Z" fill="#000"/>
<text x="271.3" y="442.1" font-size="12.3" textLength="96.0" lengthAdjust="spacingAndGlyphs" style="stroke-width:0.5px">CD127 (IL-7R&#945;)</text>
</svg>
</body></html>
